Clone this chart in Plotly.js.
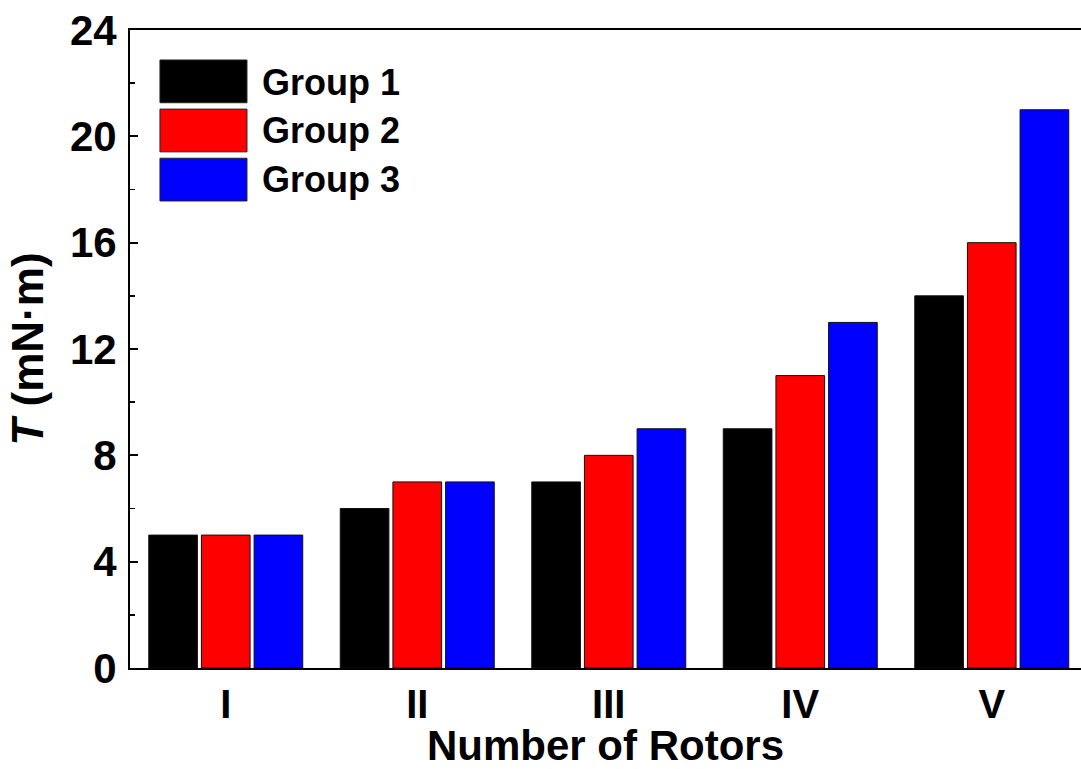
<!DOCTYPE html>
<html>
<head>
<meta charset="utf-8">
<script src="https://cdn.plot.ly/plotly-3.0.1.min.js"></script>
<style>html,body{margin:0;padding:0;background:#fff;overflow:hidden}</style>
</head>
<body>
<div id="chart" style="width:1081px;height:769px"></div>
<script>
const categories = ["I", "II", "III", "IV", "V"];
const group1 = [5, 6, 7, 9, 14];
const group2 = [5, 7, 8, 11, 16];
const group3 = [5, 7, 9, 13, 21];
const seriesNames = ["Group 1", "Group 2", "Group 3"];
const seriesColors = ["#000000", "#ff0000", "#0000ff"];
const yTicks = [0, 4, 8, 12, 16, 20, 24];

const FONT = "Liberation Sans, Arial, sans-serif";
const seriesData = [group1, group2, group3];

const traces = seriesData.map((vals, i) => ({
  type: "bar",
  x: categories,
  y: vals,
  name: seriesNames[i],
  marker: {color: seriesColors[i], line: {color: "#111111", width: 1}},
  showlegend: false,
  hoverinfo: "x+y+name"
}));

// legend drawn as shapes + annotations (big swatches like the original)
const legendBoxes = [[0.953, 0.886], [0.876, 0.809], [0.799, 0.732]];
const legendTextY = [0.918, 0.842, 0.765];
const shapes = legendBoxes.map((b, i) => ({
  type: "rect", xref: "paper", yref: "paper",
  x0: 0.0315, x1: 0.123, y0: b[1], y1: b[0],
  fillcolor: seriesColors[i], line: {color: "#222222", width: 1}
}));
const annotations = seriesNames.map((n, i) => ({
  xref: "paper", yref: "paper", x: 0.1367, y: legendTextY[i],
  xanchor: "left", yanchor: "middle", showarrow: false,
  text: "<b>" + n + "</b>",
  font: {family: FONT, size: 36, color: "#000"}
}));

const layout = {
  width: 1081, height: 769,
  margin: {l: 130, r: 0, t: 30, b: 101},
  paper_bgcolor: "#fff", plot_bgcolor: "#fff",
  barmode: "group",
  bargap: 0.175,
  bargroupgap: 0.076,
  xaxis: {
    type: "category",
    range: [-0.5, 4.466],
    showline: true, linecolor: "#000", linewidth: 2, mirror: true,
    ticks: "", showgrid: false, zeroline: false,
    tickfont: {family: FONT, size: 40, color: "#000", weight: "bold"},
    title: {text: "<b>Number of Rotors</b>", font: {family: FONT, size: 42, color: "#000"}, standoff: 7}
  },
  yaxis: {
    range: [0, 24],
    tickvals: yTicks,
    ticktext: yTicks.map(v => "<b>" + v + "</b>"),
    showline: true, linecolor: "#000", linewidth: 2,
    ticks: "inside", ticklen: 8, tickwidth: 2, tickcolor: "#000",
    minor: {dtick: 2, ticks: "inside", ticklen: 5, tickwidth: 1.5, tickcolor: "#000", showgrid: false},
    showgrid: false, zeroline: false,
    tickfont: {family: FONT, size: 42, color: "#000"},
    ticklabelstandoff: 3,
    title: {text: "<b><i>T</i> (mN·m)</b>", font: {family: FONT, size: 44, color: "#000"}, standoff: 12}
  },
  shapes: shapes,
  annotations: annotations,
  showlegend: false
};

Plotly.newPlot("chart", traces, layout, {displayModeBar: false, staticPlot: true});
</script>
</body>
</html>
